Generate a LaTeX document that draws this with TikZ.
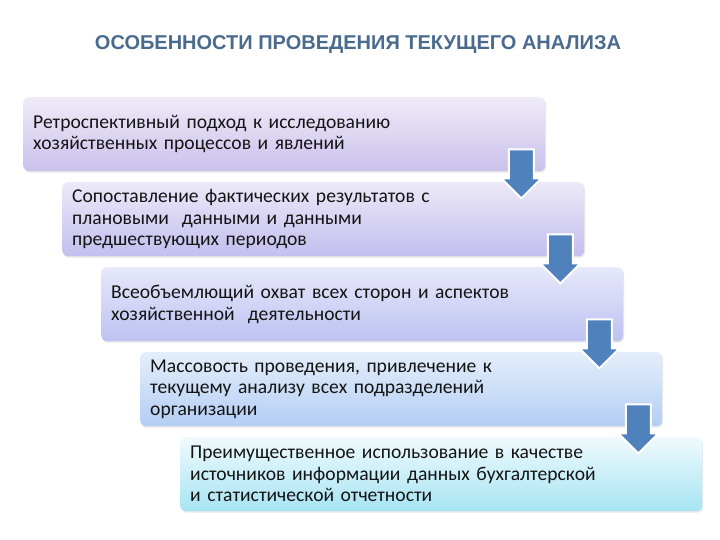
\documentclass[tikz,border=0pt]{standalone}
\usepackage{fontspec}
\setmainfont{Carlito}
\newfontfamily\headfont{Liberation Sans}
\usetikzlibrary{calc,shadows}
\definecolor{arrowblue}{HTML}{4F81BD}
\definecolor{headblue}{HTML}{4A6B8E}
\definecolor{topA}{HTML}{EFEBF8}\definecolor{botA}{HTML}{CAC1EC}
\definecolor{topB}{HTML}{ECE9F8}\definecolor{botB}{HTML}{C3BEEE}
\definecolor{topC}{HTML}{E7E8FA}\definecolor{botC}{HTML}{BDC2F1}
\definecolor{topD}{HTML}{E4EEFB}\definecolor{botD}{HTML}{B3CEF4}
\definecolor{topE}{HTML}{F0FAFD}\definecolor{botE}{HTML}{A6E4F3}
\def\stagearrow(#1){\draw[arrowblk] (#1) ++(-12.5,0) -- ++(25,0) -- ++(0,29) -- ++(7.5,0) -- ++(-20,20) -- ++(-20,-20) -- ++(7.5,0) -- cycle;}
\tikzset{
	stage/.style={rounded corners=6pt, inner ysep=0pt, inner xsep=10pt, text width=502pt, minimum height=74pt,
		align=left, anchor=north west, text=black!92, font=\fontsize{19.6}{21.5}\selectfont,
		drop shadow={opacity=0.18, shadow xshift=1pt, shadow yshift=-1.5pt}},
	arrowblk/.style={fill=arrowblue, draw=white, line width=2pt, line join=miter},
	headline/.style={font=\headfont\bfseries\fontsize{20}{22}\selectfont, text=headblue}
}

\begin{document}
\begin{tikzpicture}[x=1pt, y=-1pt]
			%%%%% START %%%%%
			\useasboundingbox[fill=white] (0,0) rectangle (720,540);
			
			\node[headline] (ttl) at (358,45) {ОСОБЕННОСТИ ПРОВЕДЕНИЯ ТЕКУЩЕГО АНАЛИЗА};
			
			\node[stage, top color=topA, bottom color=botA] (b1) at (23,97)
				{Ретроспективный подход к исследованию\\хозяйственных процессов и явлений};
			\node[stage, top color=topB, bottom color=botB] (b2) at (62,182)
				{Сопоставление фактических результатов с\\плановыми\ \ данными и данными\\предшествующих периодов};
			\node[stage, top color=topC, bottom color=botC] (b3) at (101,267)
				{Всеобъемлющий охват всех сторон и аспектов\\хозяйственной\ \ деятельности};
			\node[stage, top color=topD, bottom color=botD] (b4) at (140,352)
				{Массовость проведения, привлечение к\\текущему анализу всех подразделений\\организации};
			\node[stage, top color=topE, bottom color=botE] (b5) at (180,437)
				{Преимущественное использование в качестве\\источников информации данных бухгалтерской\\и статистической отчетности};
			
			% arrows between the stages
			\coordinate (a1) at ($(b1.south east)+(-24,-22)$);
			\coordinate (a2) at ($(b2.south east)+(-24,-22)$);
			\coordinate (a3) at ($(b3.south east)+(-24,-22)$);
			\coordinate (a4) at ($(b4.south east)+(-24,-22)$);
			\stagearrow(a1)
			\stagearrow(a2)
			\stagearrow(a3)
			\stagearrow(a4)
			
			%%%%% END %%%%%
\end{tikzpicture}
\end{document}
